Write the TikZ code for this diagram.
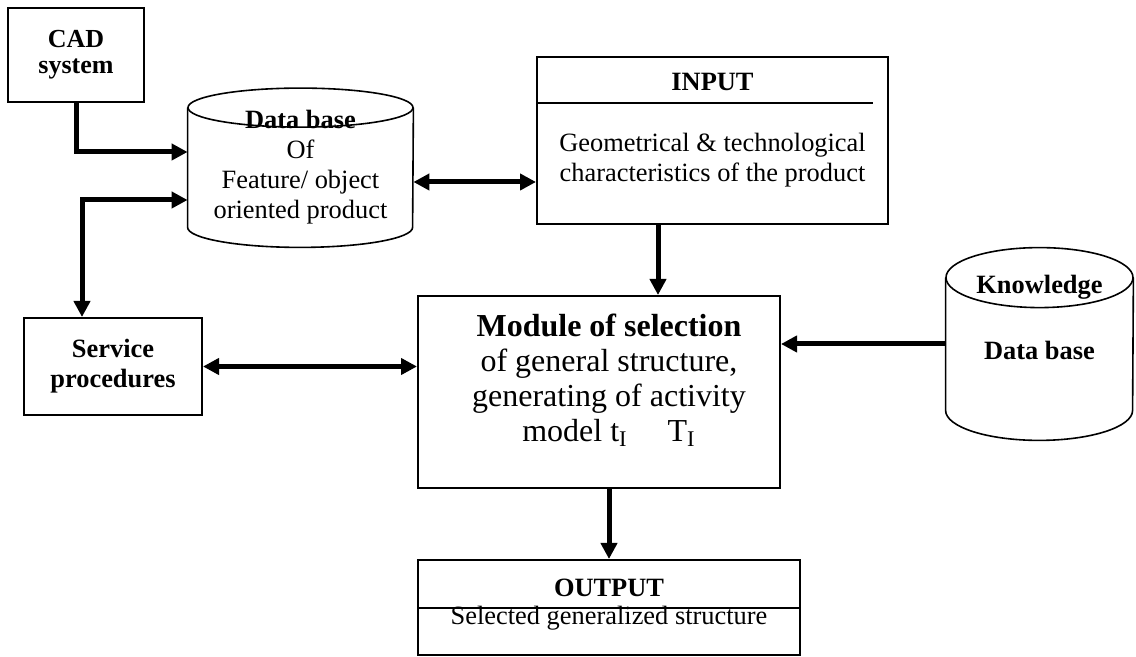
\documentclass[tikz,border=0pt]{standalone}
\usepackage{fontspec}
\setmainfont{Liberation Serif}
\usetikzlibrary{arrows.meta,calc}

\begin{document}
\begin{tikzpicture}[x=0.5pt, y=-0.5pt,
        box/.style={draw, line width=1pt, inner sep=0pt},
        txt/.style={align=center, inner sep=0pt, font=\fontsize{13.2}{15}\selectfont},
        bold/.style={align=center, inner sep=0pt, font=\bfseries\fontsize{13.2}{15}\selectfont},
        flow/.style={line width=2.5pt, -{Triangle[length=8pt,width=8pt]}},
        flowboth/.style={line width=2.5pt, {Triangle[length=8pt,width=8pt]}-{Triangle[length=8pt,width=8pt]}}]
        \useasboundingbox (0,0) rectangle (1136,657);

        \node[box, bold, minimum width=68pt, minimum height=47pt, font=\bfseries\fontsize{13}{13}\selectfont] (cad) at (76,55) {CAD\\system};

        \node[txt, minimum width=112.5pt, minimum height=59.5pt] (db) at (300.5,167.5) {\textbf{Data base}\\Of\\Feature/ object\\oriented product};
        \draw[line width=0.8pt] (db.north west) -- (db.south west) arc[start angle=180, end angle=360, x radius=56.25pt, y radius=10pt] -- (db.north east);
        \draw[line width=0.8pt] (db.north) ellipse[x radius=56.25pt, y radius=9.75pt];

        \node[box, minimum width=175.5pt, minimum height=83.5pt] (input) at (712.5,140.5) {};
        \node[bold] (intitle) at (712.5,82) {INPUT};
        \draw[line width=1pt] (input.west |- 0,103) -- (873,103);
        \node[txt] (intext) at (712.5,160) {Geometrical \& technological\\characteristics of the product};

        \node[box, bold, minimum width=89pt, minimum height=48.5pt] (srv) at (113,366.5) {Service\\procedures};

        \node[box, minimum width=181pt, minimum height=96pt] (mod) at (599,392) {};
        \node[txt, font=\fontsize{16}{17.5}\selectfont] (modtext) at (609,380) {\textbf{Module of selection}\\of general structure,\\generating of activity\\model t\textsubscript{I}\quad\ T\textsubscript{I}};

        \node[bold, minimum width=93.5pt, minimum height=66pt] (kdb) at (1039.5,344) {};
        \draw[line width=0.8pt] (kdb.north west) -- (kdb.south west) arc[start angle=180, end angle=360, x radius=46.75pt, y radius=15pt] -- (kdb.north east);
        \draw[line width=0.8pt] (kdb.north) ellipse[x radius=46.75pt, y radius=15pt];
        \node[bold] (kdbtitle) at (1039.5,287) {Knowledge};
        \node[bold] (kdbtext) at (1039.5,350) {Data base};

        \node[box, minimum width=191pt, minimum height=47.5pt] (out) at (609,607.5) {};
        \draw[line width=1pt] (out.west |- 0,608) -- (out.east |- 0,608);
        \node[bold] (outtitle) at (609,588) {OUTPUT};
        \node[txt] (outtext) at (609,618) {Selected generalized structure};

        \coordinate (srvbend) at (82,200);
        \coordinate (inbend) at (658,0);
        \draw[flow] (cad.south) |- (db.west |- 0,152);
        \draw[flowboth] (db.west |- srvbend) -- (srvbend) -- (srvbend |- srv.north);
        \draw[flowboth] (db.east |- 0,182) -- (input.west |- 0,182);
        \draw[flow] (input.south -| inbend) -- (mod.north -| inbend);
        \draw[flowboth] (srv.east) -- (mod.west |- srv.east);
        \draw[flow] (kdb.west) -- (mod.east |- kdb.west);
        \draw[flow] (mod.south -| out.north) -- (out.north);
    \end{tikzpicture}
\end{document}
